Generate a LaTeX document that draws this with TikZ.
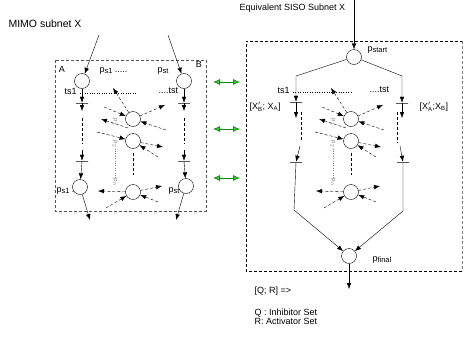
\documentclass[tikz,border=0pt]{standalone}
\usepackage{fontspec}
\setmainfont{Liberation Sans}
\usetikzlibrary{arrows.meta}
\definecolor{frame}{HTML}{555555}
\definecolor{lime}{HTML}{22E022}
\definecolor{limeline}{HTML}{1A8A1A}
\newcommand{\lowtxt}[1]{\raisebox{-1.3pt}{\fontsize{7.5}{8}\selectfont #1}}

\begin{document}
\begin{tikzpicture}[x=1pt,y=-1pt,font=\fontsize{9}{8}\selectfont,
  place/.style={draw,circle,fill=white,minimum size=15pt,inner sep=0pt},
  bar/.style={draw,minimum width=12pt,minimum height=0pt,inner sep=0pt,line width=0.5pt},
  arc/.style={-{Latex[length=6pt,width=4.5pt]},thin},
  darc/.style={arc,dash pattern=on 3pt off 2pt},
  subnet/.style={draw=frame,dash pattern=on 3pt off 2pt,thin},
  swap/.style={{Latex[length=7pt,width=6pt,fill=lime]}-{Latex[length=7pt,width=6pt,fill=lime]},draw=limeline,thick},
  plist/.style={rotate=-90,text=gray,font=\fontsize{6}{6}\selectfont,inner sep=1pt}]
\useasboundingbox (0,0) rectangle (464,341);

% frames of the two subnets
\draw[subnet] (55,60) rectangle (206,211);
\draw[subnet,draw=black] (462,271) -- (246,271) -- (246,41) -- (462,41);
\draw[subnet,draw=gray] (462,41) -- (462,271);
\node[anchor=west,font=\fontsize{10.5}{12}\selectfont] (mimo) at (5,24) {MIMO subnet X};
\node[anchor=west] (siso) at (236,8) {Equivalent SISO Subnet X};

% MIMO side
\node (lblA) at (62,69) {A};
\node (lblB) at (199,64) {B};
\node[anchor=west] (ps1top) at (96,71) {p\lowtxt{s1} .....};
\node[anchor=west] (psttop) at (154,71) {p\lowtxt{st}};
\node[anchor=west] (ts1L) at (61,91) {ts1};
\node[anchor=west] (tstL) at (155,91) {....tst};
\draw[dotted] (ts1L.east |- 0,93.5) -- (137,93.5);
\node[anchor=west] (ps1bot) at (53,191) {p\lowtxt{s1} ....};
\node[anchor=west] (pstbot) at (165,191) {p\lowtxt{st}};

\coordinate (inA) at (99,35);
\coordinate (inB) at (168,35);
\node[place] (pA) at (82,81) {};
\node[place] (pB) at (184,81) {};
\node[bar] (a1) at (82,103) {};
\node[bar] (b1) at (184,103) {};
\node[bar] (a2) at (82,161) {};
\node[bar] (b2) at (184,161) {};
\node[place] (qA) at (80,187) {};
\node[place] (qB) at (186,186) {};
\coordinate (outA) at (90,220);
\coordinate (outB) at (176,220);

\draw[arc] (inA) -- (pA);
\draw[arc] (inB) -- (pB);
\foreach \p/\t/\u/\q/\x in {pA/a1/a2/qA/82,pB/b1/b2/qB/184}{
  \draw[arc] (\p) -- (\t);
  \draw[arc] (\t.south) -- (\x,111);
  \draw[dash pattern=on 3pt off 2pt,thin] (\x,118) -- (\x,144);
  \draw[arc] (\x,150) -- (\u);
  \draw[arc] (\u.south) -- (\q);
}
\draw[arc] (qA) -- (outA);
\draw[arc] (qB) -- (outB);

% swaps between the two subnets
\foreach \y [count=\i] in {82,129,178}
  \draw[swap] (213,\y) -- (240,\y);

% inner places p1 ... pn, drawn for both subnets
\foreach \pre/\dx in {L/0,R/218}{
\begin{scope}[xshift=\dx]
  \node[place] (\pre m1) at (133,119) {};
  \node[place] (\pre m2) at (133,141) {};
  \node[place] (\pre m3) at (133,192) {};
  \draw[darc] (104,107) -- (\pre m1);
  \draw[darc] (\pre m1) -- (113,88);
  \draw[darc] (\pre m1) -- (165,105);
  \draw[darc] (166,130) -- (\pre m1);
  \draw[darc] (128,128) -- (101,119);
  \draw[darc] (97,132) -- (\pre m2);
  \draw[darc] (\pre m2) -- (163,147);
  \draw[darc] (158,157) -- (\pre m2);
  \draw[darc] (\pre m3) -- (98,191);
  \draw[darc] (\pre m3) -- (162,186);
  \draw[darc] (106,208) -- (\pre m3);
  \draw[darc] (158,202) -- (\pre m3);
  \draw[dash pattern=on 3pt off 2pt,thin] ([yshift=-4pt]\pre m2.south) -- ([yshift=9pt]\pre m3.north);
  \node[plist] (\pre l1) at (115,122) {p\textsubscript{1}};
  \node[plist] (\pre l2) at (115,144) {p\textsubscript{2}};
  \node[plist] (\pre ln) at (115,182) {p\textsubscript{n}};
  \draw[gray,dotted] (\pre l2.east) -- (\pre ln.west);
\end{scope}}

% SISO side
\coordinate (inS) at (354,0);
\node[place] (pstart) at (354,57) {};
\node[anchor=west] (lstart) at (364,50) {p\lowtxt{start}};
\node[bar] (tL1) at (296,102) {};
\node[bar] (tR1) at (402,103) {};
\node[bar] (tL2) at (296,162) {};
\node[bar] (tR2) at (403,162) {};
\node[place] (pfinal) at (349,256) {};
\node[anchor=west] (lfinal) at (369,260) {p\lowtxt{final}};
\coordinate (outS) at (349,289);

\node[anchor=west] (ts1R) at (274,90) {ts1};
\node[anchor=west] (tstR) at (366,90) {....tst};
\draw[dotted] (ts1R.east |- 0,92.5) -- (352,92.5);
\node[anchor=west] (setL) at (246,107) {[X$'_{\mathrm{B}}$; X\textsubscript{A}]};
\node[anchor=west] (setR) at (416,107) {[X$'_{\mathrm{A}}$;X\textsubscript{B}]};

\draw[arc] (inS) -- (pstart);
\draw[arc] (pstart) -- (296,76) -- (tL1);
\draw[arc] (pstart) -- (402,76) -- (tR1);
\draw[arc] (tL1.south) -- (296,118);
\draw[arc] (tR1.south) -- (402,118);
\draw[dash pattern=on 3pt off 2pt,thin] (301,112) -- (301,142);
\draw[dash pattern=on 3pt off 2pt,thin] (397,112) -- (397,143);
\draw[arc] (300,146) -- (tL2);
\draw[arc] (400,146) -- (tR2);
\draw[arc] (tL2.south) -- (294,210) -- (pfinal);
\draw[arc] (tR2.south) -- (403,211) -- (pfinal);
\draw[arc] (pfinal) -- (outS);

% legend
\node[anchor=west] (rule) at (251,291) {[Q; R] =>};
\node[anchor=west] (inh) at (251,313) {Q : Inhibitor Set};
\node[anchor=west] (act) at (251,321) {R: Activator Set};
\end{tikzpicture}
\end{document}
